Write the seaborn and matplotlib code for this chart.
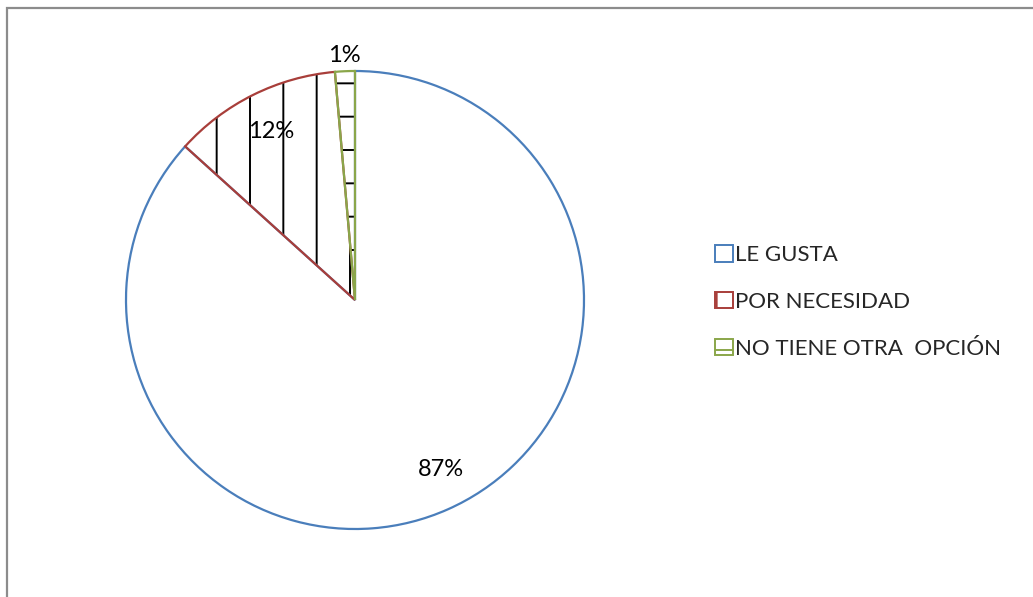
import matplotlib
matplotlib.use("Agg")
import matplotlib.pyplot as plt
import matplotlib.patches as mpatches
import seaborn as sns
import numpy as np

# Data
categories = ["LE GUSTA", "POR NECESIDAD", "NO TIENE OTRA  OPCIÓN"]
values = [86.7, 11.9, 1.4]
edge_colors = ["#4A7EBB", "#A83E3A", "#8AA64A"]
hatches = ["", "|", "-"]

sns.set_theme(style="white")
plt.rcParams["font.family"] = ["Lato", "DejaVu Sans"]
plt.rcParams["hatch.linewidth"] = 0.7

W, H, DPI = 1033, 597, 200
fig = plt.figure(figsize=(W / DPI, H / DPI), dpi=DPI)
fig.patch.set_facecolor("white")

# outer chart border (runs off the right and bottom edge)
fig.add_artist(mpatches.Rectangle((6.5 / W, -0.05), 1.2, 1 - 7.5 / H + 0.05,
                                  transform=fig.transFigure, fill=False,
                                  edgecolor="#8C8C8C", linewidth=0.8))

# pie axes: centre (355, 300) px, radius 229 px
cx, cy, r = 355, 300, 229
ax = fig.add_axes([(cx - r) / W, (H - cy - r) / H, 2 * r / W, 2 * r / H])

# layer 1: white fill with black hatching
wedges, _, autotexts = ax.pie(values, startangle=90, counterclock=False,
                              colors=["white"] * 3, autopct="%.0f%%",
                              pctdistance=0.82, radius=1,
                              wedgeprops=dict(edgecolor="black", linewidth=0),
                              textprops=dict(fontsize=8.5, color="black"))
for w, h in zip(wedges, hatches):
    w.set_hatch(h)

# layer 2: coloured outlines
ax.pie(values, startangle=90, counterclock=False, radius=1,
       wedgeprops=dict(facecolor="none", linewidth=0.8),
       colors=["none"] * 3)
for w, c in zip(ax.patches[3:], edge_colors):
    w.set_edgecolor(c)
    w.set_facecolor("none")

# pie() resets the limits, so set them afterwards
ax.set_xlim(-1, 1)
ax.set_ylim(-1, 1)
ax.set_aspect("equal")
ax.axis("off")

# label placement like the original: big one a bit to the right, small one outside
a1 = np.deg2rad(-63)
autotexts[0].set_position((0.83 * np.cos(a1), 0.83 * np.sin(a1)))
w3 = wedges[2]
ang = np.deg2rad((w3.theta1 + w3.theta2) / 2)
autotexts[2].set_position((1.07 * np.cos(ang), 1.07 * np.sin(ang)))

handles = [mpatches.Patch(facecolor="white", edgecolor=c, hatch=h, linewidth=0.7)
           for c, h in zip(edge_colors, hatches)]
fig.legend(handles, categories, loc="center left",
           bbox_to_anchor=(715 / W, 1 - 302 / H), frameon=False,
           fontsize=8, handlelength=0.8, handleheight=0.75,
           handletextpad=0.12, labelspacing=1.2, borderpad=0, borderaxespad=0)

fig.savefig("out.png", dpi=DPI, facecolor="white")
